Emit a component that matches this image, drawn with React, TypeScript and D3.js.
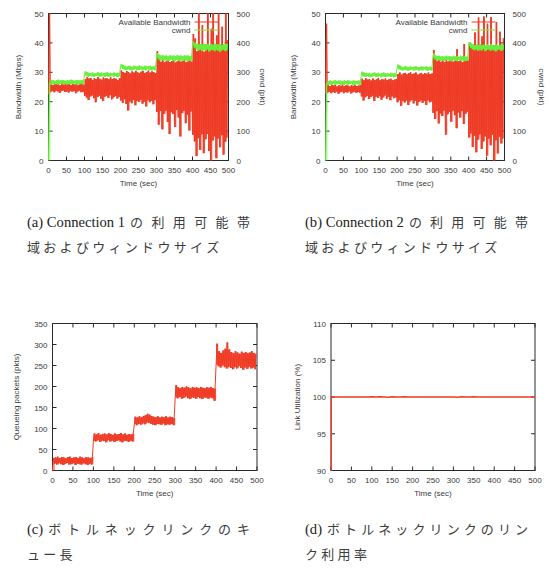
import React from "react";
import * as d3 from "d3";

// ---- shared axis values ----
const TIME_TICKS = [0, 50, 100, 150, 200, 250, 300, 350, 400, 450, 500];
const BW_TICKS = [0, 10, 20, 30, 40, 50];
const CWND_TICKS = [0, 100, 200, 300, 400, 500];
const QUEUE_TICKS = [0, 50, 100, 150, 200, 250, 300, 350];
const UTIL_TICKS = [90, 95, 100, 105, 110];

// Each bin holds the trough and the peak of the trace over BIN_SECONDS.
const BIN_SECONDS = 5;

// ---- Connection 1 ----
const conn1BwLow = [
  22.5, 23.4, 23.6, 23.2, 23.7, 23.5, 23.0, 23.6, 23.8, 23.3, 23.5, 23.1, 23.7, 23.4, 23.6, 22.9, 23.5, 23.8, 23.2, 23.4,
  22.0, 21.4, 20.6, 21.8, 22.1, 21.2, 19.8, 21.6, 22.0, 21.0, 20.2, 21.7, 21.9, 21.3, 22.2, 20.8, 21.5, 21.9, 21.1, 21.6,
  20.4, 19.6, 20.8, 19.2, 17.0, 20.1, 19.5, 20.6, 18.8, 20.2, 19.9, 20.7, 19.3, 20.0, 18.4, 20.5, 19.8, 20.3, 19.1, 20.6,
  16.5, 12.2, 16.8, 10.6, 15.9, 17.0, 13.1, 9.0, 16.4, 15.8, 11.4, 17.2, 14.6, 8.2, 16.1, 16.9, 12.7, 15.6, 10.2, 16.7,
  8.8, 6.5, 1.5, 7.6, 3.6, 8.9, 2.5, 7.2, 9.0, 3.2, 0.0, 6.8, 8.2, 0.8, 7.5, 4.5, 8.6, 2.0, 6.4, 7.8,
];
const conn1BwHigh = [
  50.0, 26.1, 25.7, 26.3, 25.9, 26.0, 25.6, 26.2, 25.8, 26.4, 25.9, 26.1, 25.7, 26.0, 25.8, 26.2, 25.6, 25.9, 26.1, 25.8,
  27.6, 28.3, 27.9, 28.1, 27.4, 28.0, 27.7, 28.4, 27.8, 27.5, 28.2, 27.9, 28.0, 27.6, 28.3, 27.7, 28.1, 27.8, 27.4, 28.0,
  30.6, 30.1, 29.8, 30.4, 30.0, 29.6, 30.3, 29.9, 30.5, 30.0, 29.7, 30.2, 30.4, 29.8, 30.1, 30.6, 29.9, 30.3, 30.0, 29.7,
  37.2, 34.8, 33.6, 34.1, 33.4, 33.9, 34.3, 33.5, 33.8, 34.0, 33.3, 33.7, 34.2, 33.6, 33.9, 34.4, 33.5, 33.8, 34.1, 33.6,
  43.0, 41.5, 37.2, 50.0, 38.4, 46.0, 37.0, 39.5, 50.0, 37.6, 44.8, 50.0, 38.2, 42.5, 50.0, 37.4, 45.5, 38.0, 50.0, 41.0,
];
const conn1CwndLow = [
  0, 258, 260, 259, 261, 258, 260, 262, 259, 260, 258, 261, 259, 260, 262, 259, 258, 261, 260, 259,
  290, 287, 285, 288, 286, 284, 287, 289, 285, 286, 288, 284, 287, 285, 286, 288, 285, 287, 284, 286,
  316, 312, 309, 307, 310, 308, 306, 309, 311, 307, 308, 310, 306, 309, 307, 311, 308, 306, 309, 307,
  350, 344, 340, 343, 339, 342, 338, 341, 343, 339, 337, 342, 340, 338, 343, 339, 341, 337, 340, 339,
  392, 384, 378, 374, 377, 372, 376, 373, 378, 371, 375, 377, 372, 376, 373, 370, 375, 377, 372, 376,
];
const conn1CwndHigh = [
  262, 272, 274, 271, 273, 275, 272, 274, 273, 271, 274, 272, 275, 273, 271, 274, 273, 272, 274, 273,
  303, 300, 298, 297, 299, 296, 298, 300, 297, 299, 296, 298, 300, 297, 298, 296, 299, 297, 298, 297,
  328, 325, 322, 320, 322, 321, 319, 322, 320, 321, 323, 320, 319, 322, 321, 320, 322, 319, 321, 320,
  366, 360, 357, 358, 356, 357, 355, 358, 356, 357, 355, 358, 356, 357, 355, 358, 356, 357, 355, 356,
  405, 400, 397, 395, 396, 394, 397, 395, 396, 393, 396, 394, 397, 395, 394, 396, 393, 395, 397, 396,
];

// ---- Connection 2 ----
const conn2BwLow = [
  22.8, 23.1, 23.4, 22.9, 23.3, 23.0, 23.5, 22.7, 23.2, 23.4, 22.9, 23.3, 23.1, 23.5, 22.8, 23.2, 23.4, 23.0, 23.3, 23.1,
  21.8, 20.4, 21.5, 21.9, 20.9, 21.6, 22.0, 20.2, 21.7, 21.3, 21.9, 20.7, 21.4, 22.1, 21.0, 21.6, 20.5, 21.8, 21.2, 21.5,
  19.8, 20.5, 18.6, 20.2, 19.7, 20.4, 18.9, 20.1, 20.6, 19.4, 20.3, 18.7, 19.9, 20.4, 19.6, 20.2, 18.9, 20.5, 19.8, 20.1,
  16.2, 14.1, 16.8, 12.6, 16.0, 15.1, 17.0, 8.8, 15.7, 16.5, 13.2, 16.9, 15.4, 11.0, 16.3, 14.6, 16.8, 12.4, 15.9, 16.6,
  7.8, 9.2, 4.6, 8.4, 2.8, 7.1, 8.9, 3.9, 6.5, 8.2, 1.6, 7.4, 5.2, 8.8, 0.0, 6.9, 2.4, 8.1, 5.8, 7.5,
];
const conn2BwHigh = [
  46.5, 25.6, 25.3, 25.8, 25.5, 25.7, 25.2, 25.6, 25.4, 25.8, 25.3, 25.6, 25.5, 25.2, 25.7, 25.4, 25.6, 25.3, 25.5, 25.6,
  27.8, 27.3, 28.0, 27.5, 27.7, 27.2, 27.9, 27.4, 27.6, 28.1, 27.3, 27.7, 27.5, 27.9, 27.4, 27.6, 27.8, 27.3, 27.5, 27.7,
  29.4, 29.9, 29.2, 29.6, 29.8, 29.3, 29.7, 30.0, 29.4, 29.6, 29.9, 29.2, 29.5, 29.8, 29.3, 29.7, 29.5, 29.9, 29.4, 29.6,
  37.6, 35.0, 33.8, 34.2, 33.6, 34.0, 33.5, 34.1, 33.7, 33.9, 34.3, 33.6, 34.0, 37.8, 33.8, 34.2, 33.5, 39.6, 33.9, 34.1,
  40.2, 38.6, 38.0, 43.5, 37.8, 48.6, 38.4, 42.2, 49.0, 37.9, 46.5, 38.6, 48.8, 39.2, 37.6, 47.0, 38.0, 43.8, 37.5, 41.6,
];
const conn2CwndLow = [
  0, 257, 259, 258, 260, 257, 259, 261, 258, 259, 257, 260, 258, 259, 261, 258, 257, 260, 259, 258,
  289, 286, 284, 287, 285, 283, 286, 288, 284, 285, 287, 283, 286, 284, 285, 287, 284, 286, 283, 285,
  314, 310, 308, 306, 309, 307, 305, 308, 310, 306, 307, 309, 305, 308, 306, 310, 307, 305, 308, 306,
  350, 344, 340, 343, 339, 342, 338, 341, 343, 339, 337, 342, 340, 338, 343, 339, 341, 337, 340, 339,
  390, 383, 378, 375, 378, 373, 377, 374, 379, 372, 376, 378, 373, 377, 374, 371, 376, 378, 373, 377,
];
const conn2CwndHigh = [
  261, 270, 272, 269, 271, 273, 270, 272, 271, 269, 272, 270, 273, 271, 269, 272, 271, 270, 272, 271,
  302, 299, 297, 296, 298, 295, 297, 299, 296, 298, 295, 297, 299, 296, 297, 295, 298, 296, 297, 296,
  326, 323, 320, 318, 321, 319, 317, 320, 318, 319, 321, 318, 317, 320, 319, 318, 320, 317, 319, 318,
  364, 358, 355, 356, 354, 355, 353, 356, 354, 355, 353, 356, 354, 355, 353, 356, 354, 355, 353, 354,
  403, 398, 395, 393, 394, 392, 395, 393, 394, 391, 394, 392, 395, 393, 392, 394, 391, 393, 395, 394,
];

// ---- Bottleneck queue (pkts) ----
const queueLow = [
  0, 16, 14, 17, 15, 13, 16, 18, 14, 15, 17, 13, 16, 15, 14, 17, 15, 13, 16, 14,
  70, 69, 72, 68, 71, 70, 67, 72, 69, 71, 68, 70, 72, 69, 67, 71, 70, 68, 71, 69,
  110, 108, 111, 109, 112, 110, 114, 113, 111, 109, 108, 111, 110, 109, 112, 108, 110, 109, 111, 108,
  174, 172, 175, 171, 173, 176, 172, 170, 174, 173, 171, 175, 172, 170, 174, 173, 171, 174, 172, 166,
  252, 248, 245, 250, 246, 243, 247, 244, 241, 246, 243, 248, 244, 240, 245, 242, 247, 243, 245, 241,
];
const queueHigh = [
  30, 31, 33, 30, 32, 31, 29, 32, 33, 30, 31, 32, 30, 33, 31, 29, 32, 31, 30, 32,
  88, 86, 89, 85, 87, 88, 86, 89, 87, 85, 88, 86, 87, 89, 86, 88, 85, 87, 86, 88,
  128, 126, 129, 127, 130, 132, 135, 133, 130, 128, 127, 129, 126, 128, 127, 129, 126, 128, 127, 125,
  203, 198, 196, 199, 197, 200, 198, 196, 199, 197, 198, 196, 199, 197, 196, 198, 197, 199, 196, 195,
  302, 284, 280, 286, 290, 305, 288, 282, 279, 284, 281, 278, 283, 280, 282, 279, 281, 284, 280, 278,
];

// ---- Link utilization (%) ----
const utilTime = [
  0, 0.5, 10, 20, 30, 40, 50, 60, 70, 80, 90, 100, 110, 120, 130, 140, 150, 160, 170, 180, 190, 200,
  210, 220, 230, 240, 250, 260, 270, 280, 290, 300, 310, 320, 330, 340, 350, 360, 370, 380, 390, 400,
  410, 420, 430, 440, 450, 460, 470, 480, 490, 500,
];
const utilValue = [
  0, 100.0, 100.01, 99.99, 100.0, 100.01, 100.0, 99.99, 100.0, 100.01, 100.0, 100.02, 99.99, 100.02, 100.01, 99.98, 100.02, 100.0, 99.99, 100.02, 100.01, 100.0,
  100.0, 99.99, 100.0, 100.01, 100.0, 100.0, 99.99, 100.0, 100.0, 100.01, 99.98, 100.02, 100.01, 99.99, 100.02, 100.0, 99.99, 100.01, 100.0, 100.0,
  100.0, 100.01, 100.0, 99.99, 100.0, 100.0, 100.01, 100.0, 100.0, 100.0,
];

// ---- styling ----
const RED = "#ef3a24";
const GREEN = "#66f03a";
const INK = "#2a2a2a";
const LABEL_INK = "#3a3a3a";
const AXIS_FONT = "'Liberation Sans', Arial, Helvetica, sans-serif";
const AXIS_SIZE = 8;
const LATIN_FONT = "'Liberation Serif', 'Times New Roman', serif";
const LATIN_SIZE = 14.6;
const CJK_FONT = "'Noto Sans CJK JP', 'Noto Sans CJK SC', sans-serif";
const CJK_SIZE = 13;
const CJK_PITCH = 16.3;
const TICK = 4;

type Band = {
  low: number[];
  high: number[];
  color: string;
  axis: "y" | "y2";
};

type Series = { time: number[]; value: number[]; color: string };

type PanelProps = {
  id: string;
  left: number;
  top: number;
  width: number;
  height: number;
  yDomain: [number, number];
  yTicks: number[];
  yLabel: string;
  yLabelX: number;
  y2Domain?: [number, number];
  y2Ticks?: number[];
  y2Label?: string;
  y2LabelX?: number;
  bands?: Band[];
  lines?: Series[];
  legend?: { text: string; color: string }[];
};

// Alternate trough/peak within each bin so the dense oscillation reads as a filled trace.
function zigzag(low: number[], high: number[]): [number, number][] {
  const pts: [number, number][] = [];
  low.forEach((lo, i) => {
    const t = i * BIN_SECONDS;
    pts.push([t, lo]);
    pts.push([t + BIN_SECONDS / 2, high[i]]);
  });
  return pts;
}

function Panel(p: PanelProps) {
  const right = p.left + p.width;
  const bottom = p.top + p.height;
  const x = d3.scaleLinear().domain([0, 500]).range([p.left, right]);
  const y = d3.scaleLinear().domain(p.yDomain).range([bottom, p.top]);
  const y2 = p.y2Domain ? d3.scaleLinear().domain(p.y2Domain).range([bottom, p.top]) : null;
  const clipId = `clip-${p.id}`;
  const textStyle = { fontFamily: AXIS_FONT, fontSize: AXIS_SIZE, fill: LABEL_INK } as const;
  const midY = (p.top + bottom) / 2;

  return (
    <g>
      <defs>
        <clipPath id={clipId}>
          <rect x={p.left - 0.5} y={p.top - 0.5} width={p.width + 1} height={p.height + 1} />
        </clipPath>
      </defs>

      <rect x={p.left} y={p.top} width={p.width} height={p.height} fill="none" stroke={INK} strokeWidth={1} />

      {TIME_TICKS.map((t) => (
        <g key={`xt${t}`}>
          <line x1={x(t)} x2={x(t)} y1={bottom} y2={bottom - TICK} stroke={INK} />
          <line x1={x(t)} x2={x(t)} y1={p.top} y2={p.top + TICK} stroke={INK} />
          <text x={x(t)} y={bottom + 12.5} textAnchor="middle" style={textStyle}>
            {t}
          </text>
        </g>
      ))}

      {p.yTicks.map((v) => (
        <g key={`yt${v}`}>
          <line x1={p.left} x2={p.left + TICK} y1={y(v)} y2={y(v)} stroke={INK} />
          {!y2 && <line x1={right} x2={right - TICK} y1={y(v)} y2={y(v)} stroke={INK} />}
          <text x={p.left - 5} y={y(v) + 3} textAnchor="end" style={textStyle}>
            {v}
          </text>
        </g>
      ))}

      {y2 &&
        p.y2Ticks!.map((v) => (
          <g key={`y2t${v}`}>
            <line x1={right} x2={right - TICK} y1={y2(v)} y2={y2(v)} stroke={INK} />
            <text x={right + 8} y={y2(v) + 3} textAnchor="start" style={textStyle}>
              {v}
            </text>
          </g>
        ))}

      <g clipPath={`url(#${clipId})`}>
        {(p.bands ?? []).map((b, i) => {
          const sy = b.axis === "y2" && y2 ? y2 : y;
          const area = d3
            .area<number>()
            .x((_, j) => x(j * BIN_SECONDS + BIN_SECONDS / 2))
            .y0((d) => sy(d))
            .y1((_, j) => sy(b.high[j]))
            .curve(d3.curveStep)(b.low);
          const zz = d3
            .line<[number, number]>()
            .x((d) => x(d[0]))
            .y((d) => sy(d[1]))(zigzag(b.low, b.high));
          return (
            <g key={i}>
              <path d={area ?? ""} fill={b.color} fillOpacity={0.88} stroke="none" />
              <path d={zz ?? ""} fill="none" stroke={b.color} strokeWidth={1} strokeLinejoin="round" />
            </g>
          );
        })}
        {(p.lines ?? []).map((s, i) => {
          const pts = s.time.map((t, j) => [t, s.value[j]] as [number, number]);
          const d = d3
            .line<[number, number]>()
            .x((v) => x(v[0]))
            .y((v) => y(v[1]))(pts);
          return <path key={`l${i}`} d={d ?? ""} fill="none" stroke={s.color} strokeWidth={1.5} />;
        })}
      </g>

      {p.legend &&
        p.legend.map((item, i) => {
          const ly = p.top + 8.5 + i * 8;
          return (
            <g key={item.text}>
              <text x={p.left + 142} y={ly + 3} textAnchor="end" style={textStyle}>
                {item.text}
              </text>
              <line x1={p.left + 146} x2={p.left + 170} y1={ly} y2={ly} stroke={item.color} strokeWidth={1} />
            </g>
          );
        })}

      <text x={(p.left + right) / 2} y={bottom + 25.5} textAnchor="middle" style={textStyle}>
        Time (sec)
      </text>
      <text
        transform={`translate(${p.yLabelX},${midY}) rotate(-90)`}
        textAnchor="middle"
        dy="0.35em"
        style={textStyle}
      >
        {p.yLabel}
      </text>
      {p.y2Label && (
        <text
          transform={`translate(${p.y2LabelX},${midY}) rotate(90)`}
          textAnchor="middle"
          dy="0.35em"
          style={textStyle}
        >
          {p.y2Label}
        </text>
      )}
    </g>
  );
}

let measureCtx: CanvasRenderingContext2D | null = null;
function textWidth(s: string, font: string): number {
  if (!measureCtx) measureCtx = document.createElement("canvas").getContext("2d");
  if (!measureCtx) return s.length * 7;
  measureCtx.font = font;
  return measureCtx.measureText(s).width;
}

type CaptionProps = {
  x: number;
  y: number;
  width: number;
  latin: string;
  first: string;
  second: string;
};

// First line is justified across the column, the last line keeps its natural spacing.
function Caption({ x, y, width, latin, first, second }: CaptionProps) {
  const latinW = textWidth(latin, `${LATIN_SIZE}px 'Liberation Serif'`);
  const chars = Array.from(first);
  const start = x + latinW + 5;
  const end = x + width - CJK_SIZE;
  const step = chars.length > 1 ? (end - start) / (chars.length - 1) : 0;
  const cjkStyle = { fontFamily: CJK_FONT, fontSize: CJK_SIZE, fill: "#3c3c3c" } as const;
  return (
    <g>
      <text x={x} y={y} style={{ fontFamily: LATIN_FONT, fontSize: LATIN_SIZE, fill: "#222" }}>
        {latin}
      </text>
      {chars.map((c, i) => (
        <text key={i} x={start + i * step} y={y} style={cjkStyle}>
          {c}
        </text>
      ))}
      {Array.from(second).map((c, i) => (
        <text key={`s${i}`} x={x + i * CJK_PITCH} y={y + 24.5} style={cjkStyle}>
          {c}
        </text>
      ))}
    </g>
  );
}

export default function App() {
  return (
    <svg
      width={550}
      height={571}
      viewBox="0 0 550 571"
      style={{ position: "absolute", left: 0, top: 0, display: "block", background: "#fff" }}
    >
      <rect width={550} height={571} fill="#fff" />
      <Panel
        id="a"
        left={48.5}
        top={13.5}
        width={180}
        height={147}
        yDomain={[0, 50]}
        yTicks={BW_TICKS}
        yLabel="Bandwidth (Mbps)"
        yLabelX={18}
        y2Domain={[0, 500]}
        y2Ticks={CWND_TICKS}
        y2Label="cwnd (pkt)"
        y2LabelX={263}
        bands={[
          { low: conn1BwLow, high: conn1BwHigh, color: RED, axis: "y" },
          { low: conn1CwndLow, high: conn1CwndHigh, color: GREEN, axis: "y2" },
        ]}
        legend={[
          { text: "Available Bandwidth", color: RED },
          { text: "cwnd", color: GREEN },
        ]}
      />
      <Panel
        id="b"
        left={325.5}
        top={13.5}
        width={179}
        height={147}
        yDomain={[0, 50]}
        yTicks={BW_TICKS}
        yLabel="Bandwidth (Mbps)"
        yLabelX={293}
        y2Domain={[0, 500]}
        y2Ticks={CWND_TICKS}
        y2Label="cwnd (pkt)"
        y2LabelX={541.5}
        bands={[
          { low: conn2BwLow, high: conn2BwHigh, color: RED, axis: "y" },
          { low: conn2CwndLow, high: conn2CwndHigh, color: GREEN, axis: "y2" },
        ]}
        legend={[
          { text: "Available Bandwidth", color: RED },
          { text: "cwnd", color: GREEN },
        ]}
      />
      <Panel
        id="c"
        left={52.5}
        top={323.5}
        width={204.5}
        height={147}
        yDomain={[0, 350]}
        yTicks={QUEUE_TICKS}
        yLabel="Queueing packets (pkts)"
        yLabelX={16}
        bands={[{ low: queueLow, high: queueHigh, color: RED, axis: "y" }]}
      />
      <Panel
        id="d"
        left={331}
        top={323.5}
        width={204}
        height={147}
        yDomain={[90, 110]}
        yTicks={UTIL_TICKS}
        yLabel="Link Utilization (%)"
        yLabelX={297}
        lines={[{ time: utilTime, value: utilValue, color: RED }]}
      />

      <Caption x={27} y={227} width={223} latin="(a) Connection 1" first="の利用可能帯" second="域およびウィンドウサイズ" />
      <Caption x={305} y={227} width={223} latin="(b) Connection 2" first="の利用可能帯" second="域およびウィンドウサイズ" />
      <Caption x={27} y={534} width={223} latin="(c)" first="ボトルネックリンクのキ" second="ュー長" />
      <Caption x={305} y={534} width={223} latin="(d)" first="ボトルネックリンクのリン" second="ク利用率" />
    </svg>
  );
}
